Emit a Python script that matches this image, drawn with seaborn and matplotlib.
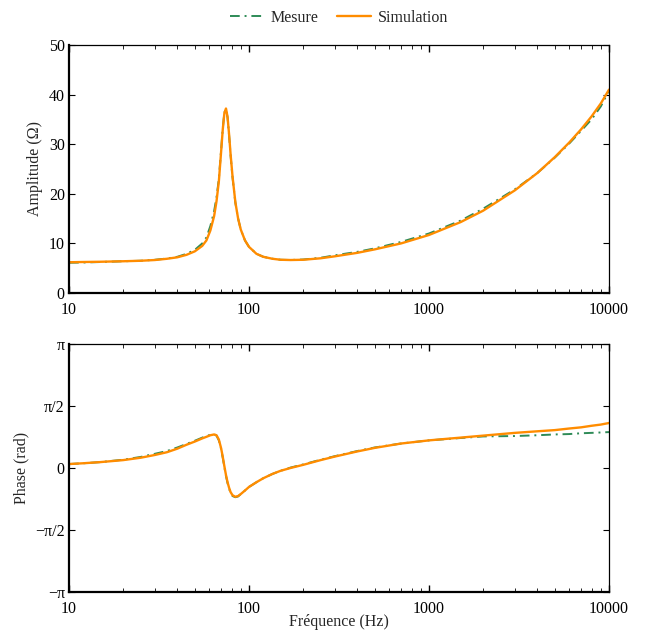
import numpy as np
import pandas as pd
import matplotlib
matplotlib.use("Agg")
import matplotlib.pyplot as plt
from matplotlib.ticker import FixedLocator, LogLocator, NullFormatter
from matplotlib.lines import Line2D
import seaborn as sns

# Frequency grid (Hz)
freq = [10, 12, 15, 20, 25, 30, 35, 40, 45, 50, 55, 58, 61, 64, 66, 68, 70, 71.5,
        73, 74.5, 76, 77.5, 79, 81, 84, 87, 90, 95, 100, 110, 120, 135, 150, 170,
        200, 250, 300, 400, 500, 700, 1000, 1500, 2000, 3000, 4000, 5000, 6000,
        7000, 8000, 9000, 10000]

# Impedance magnitude (Ohm)
amp_sim = [6.2, 6.25, 6.3, 6.4, 6.5, 6.65, 6.9, 7.2, 7.7, 8.4, 9.5, 10.6, 12.6,
           15.5, 18.5, 22.5, 28.5, 33.0, 36.3, 37.2, 35.5, 32.0, 28.0, 23.5, 18.3,
           15.0, 12.8, 10.6, 9.3, 7.9, 7.3, 6.9, 6.7, 6.65, 6.7, 7.0, 7.4, 8.1,
           8.8, 10.0, 11.7, 14.3, 16.6, 20.7, 24.2, 27.4, 30.3, 33.0, 35.6, 38.2,
           41.0]
amp_mes = [6.1, 6.15, 6.25, 6.4, 6.5, 6.7, 6.95, 7.3, 7.9, 8.7, 10.0, 11.2, 13.5,
           16.5, 19.3, 23.0, 28.8, 33.2, 36.4, 37.1, 35.4, 31.8, 27.8, 23.3, 18.2,
           15.0, 12.8, 10.6, 9.3, 7.9, 7.3, 6.9, 6.7, 6.65, 6.75, 7.1, 7.6, 8.3,
           9.0, 10.3, 12.0, 14.6, 17.0, 20.9, 24.2, 27.3, 30.1, 32.7, 35.0, 37.6,
           40.8]

# Impedance phase (rad)
phase_sim = [0.10, 0.12, 0.15, 0.20, 0.26, 0.33, 0.40, 0.49, 0.59, 0.67, 0.75,
             0.79, 0.83, 0.85, 0.83, 0.72, 0.50, 0.28, 0.04, -0.18, -0.36, -0.50,
             -0.61, -0.69, -0.73, -0.71, -0.66, -0.57, -0.48, -0.36, -0.26, -0.15,
             -0.07, 0.00, 0.08, 0.20, 0.29, 0.42, 0.51, 0.62, 0.70, 0.77, 0.82,
             0.89, 0.93, 0.96, 1.00, 1.03, 1.07, 1.10, 1.14]
phase_mes = [0.10, 0.12, 0.15, 0.21, 0.28, 0.36, 0.43, 0.52, 0.61, 0.69, 0.77,
             0.81, 0.84, 0.85, 0.82, 0.70, 0.48, 0.26, 0.02, -0.20, -0.38, -0.52,
             -0.63, -0.71, -0.74, -0.72, -0.66, -0.57, -0.48, -0.36, -0.26, -0.15,
             -0.07, 0.01, 0.09, 0.21, 0.30, 0.43, 0.52, 0.62, 0.70, 0.76, 0.80,
             0.81, 0.83, 0.85, 0.86, 0.88, 0.89, 0.90, 0.91]

x_ticks = [10, 100, 1000, 10000]
x_tick_labels = ["10", "100", "1000", "10000"]
amp_ticks = [0, 10, 20, 30, 40, 50]
phase_ticks = [-np.pi, -np.pi / 2, 0, np.pi / 2, np.pi]
phase_tick_labels = ["\u2212\u03c0", "\u2212\u03c0/2", "0", "\u03c0/2", "\u03c0"]

sns.set_theme(style="ticks")
plt.rcParams["font.family"] = ["Liberation Serif", "DejaVu Serif"]

GREEN = "#2e8b57"
ORANGE = "#ff8c00"
DASHDOT = (0, (5, 2.5, 1, 2.5))
FS = 11.5

df = pd.DataFrame({"f": freq, "amp_sim": amp_sim, "amp_mes": amp_mes,
                   "ph_sim": phase_sim, "ph_mes": phase_mes})

fig = plt.figure(figsize=(6.46, 6.34), dpi=100)
ax1 = fig.add_axes([69 / 646, 1 - 293 / 634, 540 / 646, 248 / 634])
ax2 = fig.add_axes([69 / 646, 1 - 592 / 634, 540 / 646, 248 / 634])

for ax, ymes, ysim in [(ax1, "amp_mes", "amp_sim"), (ax2, "ph_mes", "ph_sim")]:
    sns.lineplot(data=df, x="f", y=ymes, ax=ax, color=GREEN, lw=1.4,
                 linestyle=DASHDOT, legend=False)
    sns.lineplot(data=df, x="f", y=ysim, ax=ax, color=ORANGE, lw=1.7,
                 legend=False)
    ax.set_xscale("log")
    ax.set_xlim(10, 10000)
    ax.xaxis.set_major_locator(FixedLocator(x_ticks))
    ax.set_xticklabels(x_tick_labels)
    ax.xaxis.set_minor_locator(LogLocator(base=10, subs=np.arange(2, 10)))
    ax.xaxis.set_minor_formatter(NullFormatter())
    ax.tick_params(which="both", direction="in", top=True, right=True,
                   colors="black", labelsize=FS)
    ax.tick_params(axis="x", which="major", length=5, width=1.0, pad=6.5)
    ax.tick_params(axis="x", which="minor", length=3, width=0.6)
    ax.tick_params(axis="y", which="major", length=4, width=0.8, pad=3)
    ax.set_facecolor("white")
    for side in ["left", "bottom"]:
        ax.spines[side].set_linewidth(1.6)
        ax.spines[side].set_color("black")
    for side in ["top", "right"]:
        ax.spines[side].set_visible(True)
        ax.spines[side].set_linewidth(0.9)
        ax.spines[side].set_color("black")

ax1.set_ylim(0, 50)
ax1.set_yticks(amp_ticks)
ax1.set_xlabel("")
ax1.set_ylabel("Amplitude (\u03a9)", fontsize=FS)

ax2.set_ylim(-np.pi, np.pi)
ax2.set_yticks(phase_ticks)
ax2.set_yticklabels(phase_tick_labels)
ax2.set_xlabel("Fr\u00e9quence (Hz)", fontsize=FS, labelpad=-2)
ax2.set_ylabel("Phase (rad)", fontsize=FS)

handles = [Line2D([], [], color=GREEN, lw=1.4, linestyle=DASHDOT),
           Line2D([], [], color=ORANGE, lw=1.7)]
fig.legend(handles, ["Mesure", "Simulation"], loc="center",
           bbox_to_anchor=(339 / 646, 1 - 18 / 634), ncol=2, frameon=False,
           fontsize=FS, handlelength=2.1, handletextpad=0.45, columnspacing=1.2)

fig.savefig("out.png", dpi=100, facecolor="white")
